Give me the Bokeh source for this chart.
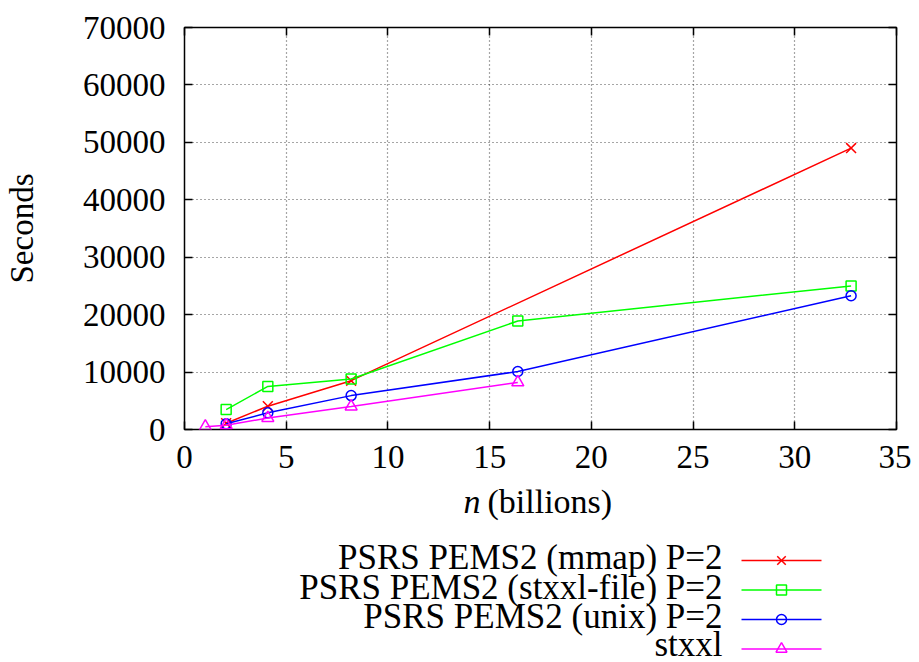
from bokeh.plotting import figure
from bokeh.models import Range1d, FixedTicker, LinearAxis
from bokeh.layouts import column
from bokeh.core.properties import value
from bokeh.embed import file_html
from bokeh.resources import INLINE

# ---- data ----
mmap_n = [2.048, 4.096, 8.192, 32.768]
mmap_s = [1100, 4050, 8500, 49000]
file_n = [2.048, 4.096, 8.192, 16.384, 32.768]
file_s = [3470, 7500, 8800, 18900, 25000]
unix_n = [2.048, 4.096, 8.192, 16.384, 32.768]
unix_s = [1000, 2900, 5900, 10100, 23300]
stxxl_n = [1.024, 2.048, 4.096, 8.192, 16.384]
stxxl_s = [500, 750, 2000, 4000, 8200]

series_names = ["PSRS PEMS2 (mmap) P=2", "PSRS PEMS2 (stxxl-file) P=2",
                "PSRS PEMS2 (unix) P=2", "stxxl"]
x_ticks = [0, 5, 10, 15, 20, 25, 30, 35]
x_tick_labels = ["0", "5", "10", "15", "20", "25", "30", "35"]
y_ticks = [0, 10000, 20000, 30000, 40000, 50000, 60000, 70000]
y_tick_labels = ["0", "10000", "20000", "30000", "40000", "50000", "60000", "70000"]
y_title = "Seconds"
x_title_var = "n"
x_title_rest = "(billions)"

FONT = "Liberation Serif"
W = 911
H_MAIN = 482
H_LEG = 180
LEFT, RIGHT = 184, 896

p = figure(width=W, height=H_MAIN, output_backend="svg", toolbar_location=None,
           x_range=Range1d(0, 35), y_range=Range1d(0, 70000),
           min_border_left=LEFT, min_border_right=W - RIGHT, min_border_top=27,
           min_border_bottom=H_MAIN - 429)
p.background_fill_color = "white"
p.border_fill_color = "white"
p.outline_line_color = "black"
p.outline_line_width = 1.5


def style_axis(ax, labels=True):
    ax.axis_line_color = None
    ax.major_tick_in = 8
    ax.major_tick_out = 0
    ax.minor_tick_line_color = None
    ax.major_tick_line_width = 1.5
    ax.major_tick_line_color = "black"
    ax.major_label_text_font = FONT
    ax.major_label_text_color = "black"
    if not labels:
        ax.major_label_text_font_size = "0px"
        ax.major_label_text_alpha = 0
        ax.major_label_standoff = 0


xa = p.xaxis[0]
ya = p.yaxis[0]
style_axis(xa)
style_axis(ya)
xa.ticker = FixedTicker(ticks=x_ticks)
ya.ticker = FixedTicker(ticks=y_ticks)
xa.major_label_overrides = dict(zip(x_ticks, x_tick_labels))
ya.major_label_overrides = dict(zip(y_ticks, y_tick_labels))
xa.major_label_text_font_size = "33px"
ya.major_label_text_font_size = "33px"
xa.major_label_standoff = 16
ya.major_label_standoff = 19
ya.axis_label = y_title
ya.axis_label_text_font = FONT
ya.axis_label_text_font_size = "33px"
ya.axis_label_text_font_style = "normal"
ya.axis_label_text_color = "black"
ya.axis_label_standoff = 40

top = LinearAxis(ticker=FixedTicker(ticks=x_ticks))
right = LinearAxis(ticker=FixedTicker(ticks=y_ticks))
style_axis(top, labels=False)
style_axis(right, labels=False)
p.add_layout(top, "above")
p.add_layout(right, "right")

p.grid.grid_line_color = "black"
p.grid.grid_line_alpha = 0.7
p.grid.grid_line_dash = "1 3"
p.grid.grid_line_width = 1.2
p.xgrid.ticker = FixedTicker(ticks=x_ticks[1:-1])
p.ygrid.ticker = FixedTicker(ticks=y_ticks[1:-1])

colors = ["#ff0000", "#00ff00", "#0000ff", "#ff00ff"]
markers = ["x", "square", "circle", "triangle"]
msize = [14, 10, 10, 12]
key_msize = [12, 10, 10, 11]
data = [(mmap_n, mmap_s), (file_n, file_s), (unix_n, unix_s), (stxxl_n, stxxl_s)]

for (xs, ys), c, m, s in zip(data, colors, markers, msize):
    p.line(xs, ys, line_color=c, line_width=1.5)
    p.scatter(xs, ys, marker=m, size=s, line_color=c, fill_color=None, line_width=1.5)

# ---- lower panel: x-axis title and key; its x/y are page pixels (y from panel top) ----
q = figure(width=W, height=H_LEG, output_backend="svg", toolbar_location=None,
           x_range=Range1d(LEFT, RIGHT), y_range=Range1d(H_LEG, 0),
           min_border_left=LEFT, min_border_right=W - RIGHT, min_border_top=0,
           min_border_bottom=0, x_axis_type=None, y_axis_type=None)
q.outline_line_color = None
q.grid.visible = False
q.background_fill_color = "white"
q.border_fill_color = "white"

# x-axis title
q.text(x=[463], y=[19], text=[x_title_var], text_font=value(FONT), text_font_size="34px",
       text_font_style="italic", text_align="left", text_baseline="middle", text_color="black")
q.text(x=[487], y=[19], text=[x_title_rest], text_font=value(FONT), text_font_size="34px",
       text_align="left", text_baseline="middle", text_color="black")

# key
row_y = [78, 107.5, 137, 166.5]
text_y = [75, 104.5, 134, 161.5]
for name, c, m, s, ry, ty in zip(series_names, colors, markers, key_msize, row_y, text_y):
    q.text(x=[722], y=[ty], text=[name], text_font=value(FONT), text_font_size="35px",
           text_align="right", text_baseline="middle", text_color="black")
    q.line(x=[741, 821], y=[ry, ry], line_color=c, line_width=1.5)
    q.scatter(x=[781], y=[ry], marker=m, size=s, line_color=c, fill_color=None,
              line_width=1.5)

layout = column(p, q, spacing=0)
open("out.html", "w").write(file_html(layout, INLINE))
